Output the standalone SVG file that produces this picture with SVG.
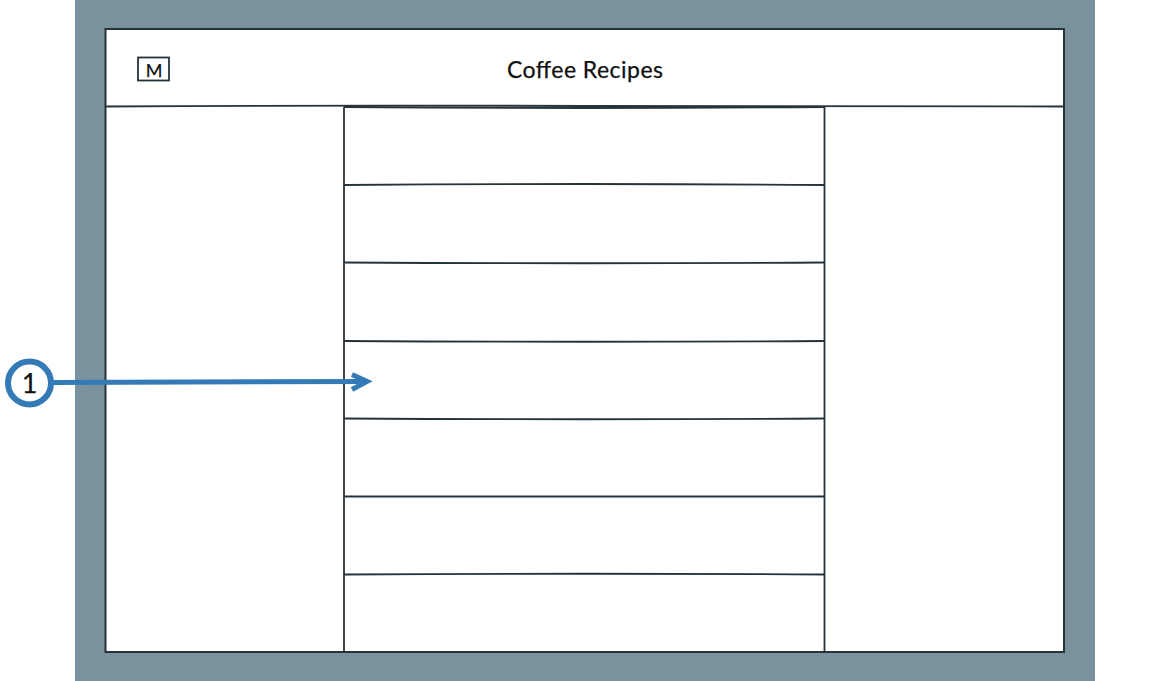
<svg xmlns="http://www.w3.org/2000/svg" width="1170" height="681" viewBox="0 0 1170 681">
<style>
.ln{fill:none;stroke:#27333b;stroke-width:1.8}
.box{fill:#fff;stroke:#27333b;stroke-width:2}
.t{font-family:"Lato","Noto Sans",sans-serif;fill:#111;stroke:#111;stroke-width:.25}
.wire{fill:none;stroke:#337ab7;stroke-width:5}
</style>
<rect x="0" y="0" width="1170" height="681" fill="#fff"/>
<rect id="backdrop" x="75" y="0" width="1020" height="681" fill="#7a919e"/>
<g id="window">
<rect class="box" x="105.500" y="29" width="958.500" height="623"/>
<path class="ln" d="M106 106.500Q344 105 585 106T1064 106.500"/>
</g>
<g id="title"><text class="t" x="585" y="78" font-size="23" text-anchor="middle" textLength="156" lengthAdjust="spacing">Coffee Recipes</text></g>
<g id="menu-button">
<rect x="138" y="57.500" width="31" height="23" fill="#fff" stroke="#27333b" stroke-width="1.800"/>
<text class="t" x="154" y="77" font-size="18" text-anchor="middle">M</text>
</g>
<g id="list">
<path class="ln" d="M344 107V652M824.500 107V652"/>
<path class="ln" d="M344 107Q585 109 824.500 107"/>
<path class="ln" d="M344 185Q585 183 824.500 185"/>
<path class="ln" d="M344 262.500Q585 264 824.500 262.500"/>
<path class="ln" d="M344 341Q585 342.500 824.500 341"/>
<path class="ln" d="M344 418.500Q585 420 824.500 418.500"/>
<path class="ln" d="M344 496.500Q585 496.500 824.500 496.500"/>
<path class="ln" d="M344 574.500Q585 573 824.500 574.500"/>
<path class="ln" d="M344 652Q585 653 824.500 652"/>
</g>
<g id="connectors">
<path class="wire" d="M52 382.500L367 381.500"/>
<path class="wire" d="M352 374.500L367 381.500L352 389.500"/>
</g>
<g id="callout-1">
<circle cx="29.500" cy="383" r="21.500" fill="#fff" stroke="#337ab7" stroke-width="6"/>
<text class="t" x="29.500" y="393" font-size="27" text-anchor="middle">1</text>
</g>
</svg>
